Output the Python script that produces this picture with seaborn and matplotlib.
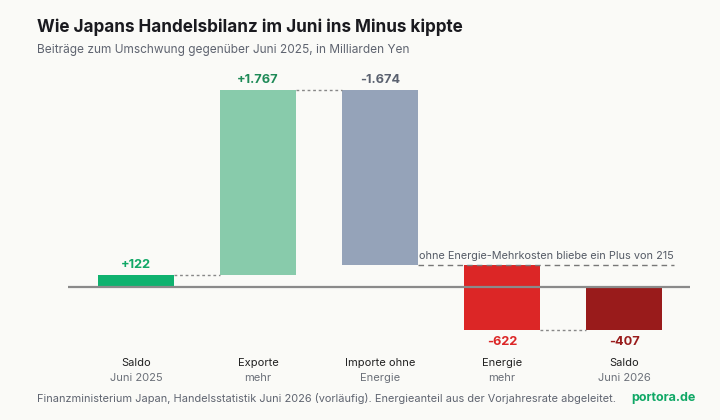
import matplotlib
matplotlib.use("Agg")
import matplotlib.pyplot as plt
import matplotlib.transforms as mtransforms
import seaborn as sns
import pandas as pd

# ---- data ----
line1 = ["Saldo", "Exporte", "Importe ohne", "Energie", "Saldo"]
line2 = ["Juni 2025", "mehr", "Energie", "mehr", "Juni 2026"]
values = [122, 1767, -1674, -622, -407]
kinds = ["total", "delta", "delta", "delta", "total"]
bar_colors = ["#0fb26f", "#88cbab", "#95a3b9", "#dc2626", "#991b1b"]
label_colors = ["#10a866", "#1e8a57", "#5b6270", "#dc2626", "#991b1b"]
label_pos = ["above", "above", "above", "below", "below"]
annot_text = "ohne Energie-Mehrkosten bliebe ein Plus von 215"
annot_level = 215

BG = "#fafaf7"

# waterfall bottoms / tops
bottoms, tops, levels = [], [], []
run = 0
for v, k in zip(values, kinds):
    if k == "total":
        b, t = 0, v
        run = v
    else:
        b, t = run, run + v
        run = run + v
    levels.append(run)
    bottoms.append(min(b, t))
    tops.append(max(b, t))
heights = [t - b for b, t in zip(bottoms, tops)]

df = pd.DataFrame({"cat": [f"{a} {b}" for a, b in zip(line1, line2)],
                   "h": heights})

sns.set_theme(style="white")
plt.rcParams["font.family"] = ["Inter", "DejaVu Sans"]

fig = plt.figure(figsize=(7.2, 4.2), dpi=100, facecolor=BG)
ax = fig.add_axes([68/720, 1-340/420, (690-68)/720, (340-65)/420])
ax.set_facecolor(BG)

W = 0.62
sns.barplot(data=df, x="cat", y="h", hue="cat", palette=bar_colors,
            legend=False, width=W, ax=ax, saturation=1, edgecolor="none")
for p, b in zip(ax.patches, bottoms):
    p.set_y(b)

ax.set_xlim(-0.557, 4.54)
ax.set_ylim(-502, 2127)
ax.axhline(0, color="#8a8a8a", lw=1.6, zorder=3)
for s in ax.spines.values():
    s.set_visible(False)
ax.set_xticks([])
ax.set_yticks([])
ax.set_xlabel("")
ax.set_ylabel("")

# connectors
for i in range(len(values) - 1):
    if i == 2:
        continue
    ax.plot([i + W/2, i + 1 - W/2], [levels[i], levels[i]],
            color="#888888", lw=1.0, ls=(0, (2, 2)), zorder=2)

# annotation line
ax.plot([2 + W/2, 4.41], [annot_level, annot_level], color="#777777",
        lw=1.0, ls=(0, (4, 3)), zorder=2)
ax.annotate(annot_text, xy=(4.41, annot_level), xytext=(0, 3),
            textcoords="offset points", ha="right", va="bottom",
            fontsize=7.85, color="#555b66")

def fmt(v):
    s = f"{abs(v):,}".replace(",", ".")
    return ("+" if v > 0 else "-") + s

for i, v in enumerate(values):
    if label_pos[i] == "above":
        ax.annotate(fmt(v), xy=(i, tops[i]), xytext=(0, 3), textcoords="offset points",
                    ha="center", va="bottom", fontsize=9.2, fontweight="bold",
                    color=label_colors[i])
    else:
        ax.annotate(fmt(v), xy=(i, bottoms[i]), xytext=(0, -4), textcoords="offset points",
                    ha="center", va="top", fontsize=9.2, fontweight="bold",
                    color=label_colors[i])

tr = mtransforms.blended_transform_factory(ax.transData, fig.transFigure)
for i, (a, b) in enumerate(zip(line1, line2)):
    ax.text(i, 1-363/420, a, transform=tr, ha="center", va="center",
            fontsize=8, color="#222222")
    ax.text(i, 1-378/420, b, transform=tr, ha="center", va="center",
            fontsize=8, color="#6b7079")

fig.text(37/720, 1-27/420, "Wie Japans Handelsbilanz im Juni ins Minus kippte",
         ha="left", va="center", fontsize=12.3, fontweight="bold", color="#1a1a1f")
fig.text(37/720, 1-50/420, "Beiträge zum Umschwung gegenüber Juni 2025, in Milliarden Yen",
         ha="left", va="center", fontsize=8.55, color="#5f6470")
fig.text(37/720, 1-398/420,
         "Finanzministerium Japan, Handelsstatistik Juni 2026 (vorläufig). Energieanteil aus der Vorjahresrate abgeleitet.",
         ha="left", va="center", fontsize=7.9, color="#5f6470")
fig.text(696/720, 1-398/420, "portora.de", ha="right", va="center",
         fontsize=9, fontweight="bold", color="#10a866")

fig.savefig("out.png", dpi=100, facecolor=BG)
